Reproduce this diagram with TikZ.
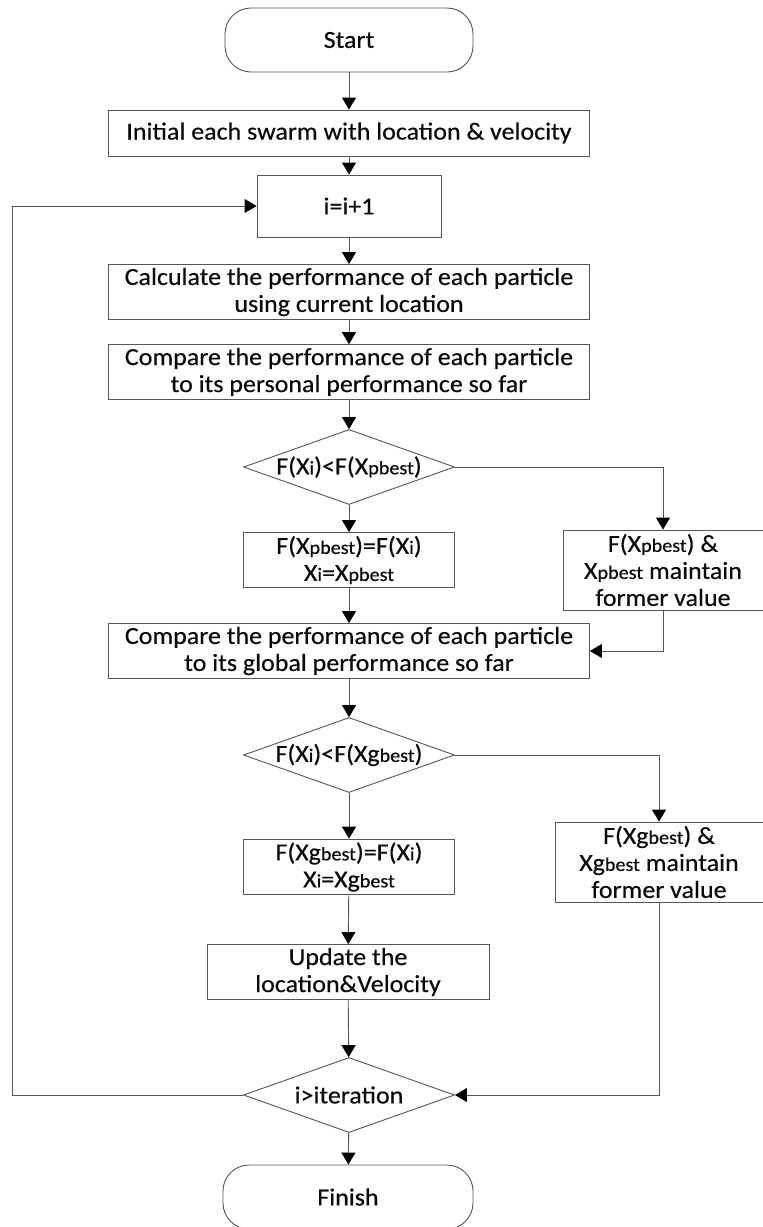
\documentclass[tikz,border=0pt]{standalone}
\usepackage{fontspec}
\setmainfont[FakeStretch=1.06, FakeBold=0.4]{Carlito}
\usepackage{tikz}
\usetikzlibrary{shapes.geometric, arrows.meta, positioning, calc}
\definecolor{linegray}{RGB}{85,85,85}
\definecolor{txtdark}{RGB}{10,10,10}
\newcommand{\lowtxt}[1]{{\fontsize{19}{19}\selectfont #1}}
\tikzset{
  procbox/.style={rectangle, draw=linegray, fill=white, align=center,
    font=\fontsize{24.5}{27}\selectfont, text=txtdark, line width=0.9pt},
  termbox/.style={rectangle, draw=linegray, fill=white, align=center,
    font=\fontsize{24.5}{27}\selectfont, text=txtdark, line width=0.9pt,
    rounded corners=26pt, minimum width=248pt, minimum height=64pt},
  decide/.style={diamond, draw=linegray, fill=white, align=center,
    font=\fontsize{24.5}{27}\selectfont, text=txtdark, line width=0.9pt,
    inner sep=0pt, minimum width=211pt, minimum height=75pt, aspect=2.8},
  arrow/.style={-{Triangle[length=12pt, width=14pt, color=black]}, line width=0.9pt, draw=linegray},
  line/.style={line width=0.9pt, draw=linegray}
}
\begin{document}
\begin{tikzpicture}[x=1pt, y=-1pt]
  \useasboundingbox (0,0) rectangle (763,1227);

  % Main column
  \node[termbox] (start) at (349,40) {Start};
  \node[procbox, minimum width=481pt, minimum height=46pt] (init) at (349,133)
    {Initial each swarm with location \& velocity};
  \node[procbox, minimum width=184pt, minimum height=62pt] (incr) at (349,206) {i=i+1};
  \node[procbox, minimum width=481pt, minimum height=53pt] (calc) at (349,292)
    {Calculate the performance of each particle\\using current location};
  \node[procbox, minimum width=481pt, minimum height=52pt] (cmpp) at (349,372)
    {Compare the performance of each particle\\to its personal performance so far};
  \node[decide] (decp) at (349,467) {F(X\lowtxt{i})<F(X\lowtxt{pbest})};
  \node[procbox, minimum width=211pt, minimum height=55pt] (setp) at (349,560)
    {F(X\lowtxt{pbest})=F(X\lowtxt{i})\\X\lowtxt{i}=X\lowtxt{pbest}};
  \node[procbox, minimum width=200pt, minimum height=80pt] (keepp) at (663,570)
    {F(X\lowtxt{pbest}) \&\\X\lowtxt{pbest} maintain\\former value};
  \node[procbox, minimum width=481pt, minimum height=52pt] (cmpg) at (349,651)
    {Compare the performance of each particle\\to its global performance so far};
  \node[decide] (decg) at (349,755) {F(X\lowtxt{i})<F(Xg\lowtxt{best})};
  \node[procbox, minimum width=211pt, minimum height=55pt] (setg) at (349,867)
    {F(Xg\lowtxt{best})=F(X\lowtxt{i})\\X\lowtxt{i}=Xg\lowtxt{best}};
  \node[procbox, minimum width=208pt, minimum height=80pt] (keepg) at (659,862)
    {F(Xg\lowtxt{best}) \&\\Xg\lowtxt{best} maintain\\former value};
  \node[procbox, minimum width=282pt, minimum height=55pt] (upd) at (348,972)
    {Update the\\location\&Velocity};
  \node[decide] (deci) at (349,1095) {i>iteration};
  \node[termbox, minimum width=250pt] (fin) at (348,1197) {Finish};

  % Straight flow
  \draw[arrow] (start) -- (init);
  \draw[arrow] (init) -- (incr);
  \draw[arrow] (incr) -- (calc);
  \draw[arrow] (calc) -- (cmpp);
  \draw[arrow] (cmpp) -- (decp);
  \draw[arrow] (decp) -- (setp);
  \draw[arrow] (setp) -- (cmpg);
  \draw[arrow] (cmpg) -- (decg);
  \draw[arrow] (decg) -- (setg);
  \draw[arrow] (setg) -- (upd);
  \draw[arrow] (upd) -- (deci);
  \draw[arrow] (deci) -- (fin);

  % Side branches
  \draw[arrow] (decp.east) -| (keepp.north);
  \draw[arrow] (keepp.south) |- (cmpg.east);
  \draw[arrow] (decg.east) -| (keepg.north);
  \draw[arrow] (keepg.south) |- (deci.east);

  % Loop back
  \coordinate (loop) at (12,1095);
  \draw[arrow] (deci.west) -- (loop) |- (incr.west);
\end{tikzpicture}
\end{document}
